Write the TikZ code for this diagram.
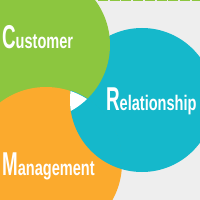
\documentclass[tikz,border=0pt]{standalone}
\usepackage{fontspec}
\setmainfont{Liberation Sans}[FakeStretch=0.69]
\newfontfamily\initfont{Liberation Sans}[FakeStretch=0.57]
\definecolor{crmgreen}{HTML}{8CC63F}
\definecolor{crmorange}{HTML}{FBAA2D}
\definecolor{crmcyan}{HTML}{15B8CB}
\definecolor{crmbg}{HTML}{EEEEEE}
\tikzset{
  word/.style={text=white, inner sep=0pt, anchor=base west, font=\fontsize{30}{30}\selectfont\bfseries},
}
\newcommand{\initial}[1]{{\initfont\fontsize{47}{47}\selectfont\bfseries #1}}

\begin{document}
\begin{tikzpicture}[x=0.5mm, y=-0.5mm]
  \useasboundingbox (0,0) rectangle (200,200);
  \clip (0,0) rectangle (200,200);
  \fill[crmbg] (0,0) rectangle (200,200);
  \draw[crmgreen, line width=0.75mm, dash pattern=on 5mm off 0.85mm] (98,0.75) -- (200,0.75);
  % the three circles, each one lying over the next
  \fill[crmcyan] (142,100) circle [radius=36mm];
  \fill[crmgreen] (35,45) circle [radius=37.5mm];
  \fill[crmorange] (46,163) circle [radius=38mm];
  \begin{scope}
    \clip (142,100) circle [radius=36mm];
    \fill[crmcyan] (46,163) circle [radius=38.3mm];
    \clip (46,163) circle [radius=38mm];
    \fill[white] (35,45) circle [radius=37.5mm];
  \end{scope}
  \node[word] (cust) at (2,49) {\initial{C}ustomer};
  \node[word] (rel) at (106,110) {\initial{R}elationship};
  \node[word] (mgmt) at (2,175) {\initial{M}anagement};
\end{tikzpicture}
\end{document}
